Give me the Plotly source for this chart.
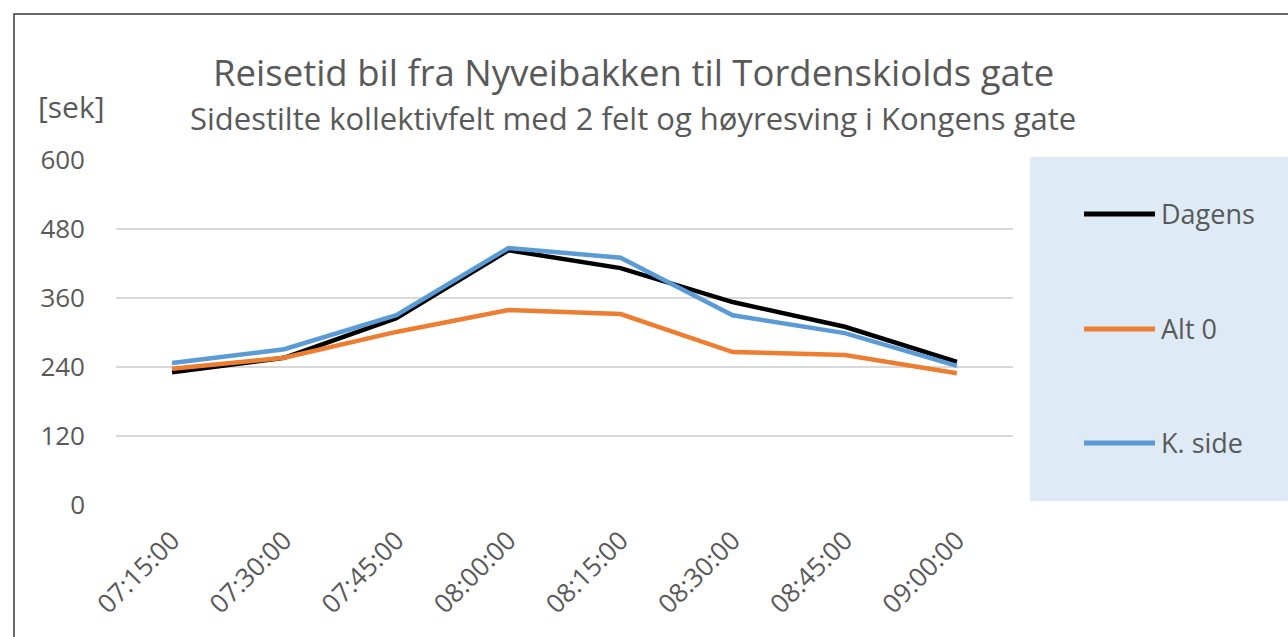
import plotly.graph_objects as go

# Travel time by departure time, in seconds
times = ["07:15:00", "07:30:00", "07:45:00", "08:00:00",
         "08:15:00", "08:30:00", "08:45:00", "09:00:00"]
dagens = [231, 256, 325, 443, 412, 353, 310, 249]
alt0 = [237, 256, 301, 339, 332, 266, 261, 229]
k_side = [247, 271, 330, 447, 430, 330, 299, 242]

series_names = ["Dagens", "Alt 0", "K. side"]
series_values = [dagens, alt0, k_side]
series_colors = ["#000000", "#ED7D31", "#5B9BD5"]

y_ticks = [0, 120, 240, 360, 480, 600]

FONT = "Open Sans"
GREY = "#595959"

W, H = 1288, 637
L, R, T, B = 116, 1013, 160, 505  # plot area in pixels


def px_x(p):
    return (p - L) / (R - L)


def px_y(p):
    return (B - p) / (B - T)


fig = go.Figure()
for name, vals, col in zip(series_names, series_values, series_colors):
    fig.add_trace(go.Scatter(
        x=times, y=vals, mode="lines", name=name,
        line=dict(color=col, width=4.5),
        showlegend=False,
    ))

shapes = [
    # legend panel
    dict(type="rect", xref="paper", yref="paper",
         x0=px_x(1030), x1=px_x(1295), y0=px_y(501), y1=px_y(157),
         fillcolor="#DEEAF6", line=dict(width=0), layer="below"),
    # chart border
    dict(type="rect", xref="paper", yref="paper",
         x0=px_x(14), x1=px_x(1300), y0=px_y(650), y1=px_y(14),
         line=dict(color="#3A3A3A", width=1.5), fillcolor="rgba(0,0,0,0)"),
]

annotations = [
    dict(text="Reisetid bil fra Nyveibakken til Tordenskiolds gate",
         xref="paper", yref="paper", x=px_x(633), y=px_y(72),
         xanchor="center", yanchor="middle", showarrow=False,
         font=dict(size=36.5, color=GREY, family=FONT)),
    dict(text="Sidestilte kollektivfelt med 2 felt og høyresving i Kongens gate",
         xref="paper", yref="paper", x=px_x(633), y=px_y(118),
         xanchor="center", yanchor="middle", showarrow=False,
         font=dict(size=31, color=GREY, family=FONT)),
    dict(text="[sek]",
         xref="paper", yref="paper", x=px_x(36), y=px_y(106),
         xanchor="left", yanchor="middle", showarrow=False,
         font=dict(size=30, color=GREY, family=FONT)),
]

# legend: one line sample and label per series
legend_rows = [214, 329, 443]
for name, col, row in zip(series_names, series_colors, legend_rows):
    shapes.append(dict(type="line", xref="paper", yref="paper",
                       x0=px_x(1084), x1=px_x(1155), y0=px_y(row), y1=px_y(row),
                       line=dict(color=col, width=5)))
    annotations.append(dict(text=name, xref="paper", yref="paper",
                            x=px_x(1159), y=px_y(row - 1),
                            xanchor="left", yanchor="middle", showarrow=False,
                            font=dict(size=27, color=GREY, family=FONT)))

fig.update_layout(
    width=W, height=H,
    margin=dict(l=L, r=W - R, t=T, b=H - B),
    paper_bgcolor="white",
    plot_bgcolor="white",
    font=dict(family=FONT, color=GREY),
    showlegend=False,
    xaxis=dict(
        type="category",
        range=[-0.5, len(times) - 0.5],
        showgrid=False, zeroline=False, showline=False,
        ticks="", tickangle=-45,
        tickfont=dict(size=26, color=GREY, family=FONT),
        ticklabelstandoff=14,
    ),
    yaxis=dict(
        range=[0, 600],
        tickvals=y_ticks,
        ticktext=[str(v) for v in y_ticks],
        showgrid=True, gridcolor="#D9D9D9", gridwidth=2,
        zeroline=False, showline=False, ticks="",
        tickfont=dict(size=26, color=GREY, family=FONT),
        ticklabelstandoff=30,
    ),
    shapes=shapes,
    annotations=annotations,
)

fig.write_html("out.html")
